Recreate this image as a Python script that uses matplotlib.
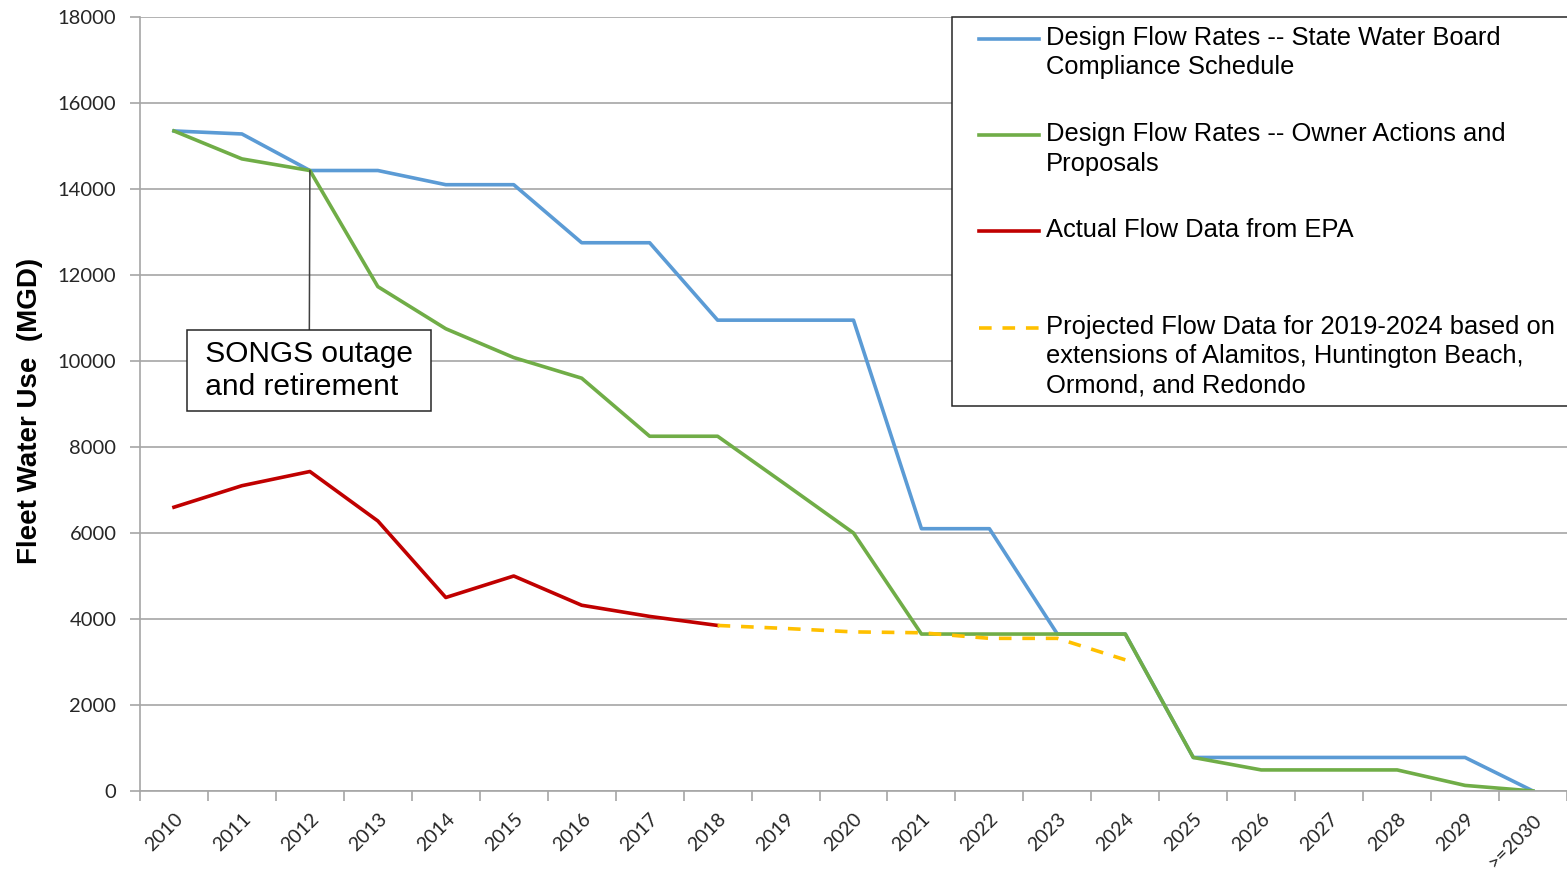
import matplotlib
matplotlib.use("Agg")
import matplotlib.pyplot as plt
import numpy as np
from matplotlib.legend_handler import HandlerLine2D

categories = ['2010', '2011', '2012', '2013', '2014', '2015', '2016', '2017', '2018', '2019',
              '2020', '2021', '2022', '2023', '2024', '2025', '2026', '2027', '2028', '2029', '>=2030']

state_board = [15350, 15280, 14430, 14430, 14100, 14100, 12750, 12750, 10950, 10950,
               10950, 6100, 6100, 3650, 3650, 780, 780, 780, 780, 780, 0]
owner_actions = [15350, 14700, 14430, 11730, 10750, 10080, 9600, 8250, 8250, 7130,
                 6000, 3650, 3650, 3650, 3650, 780, 490, 490, 490, 130, 0]
actual_years = categories[:9]
actual_epa = [6600, 7100, 7430, 6280, 4500, 5000, 4320, 4060, 3850]
projected_years = categories[8:15]
projected = [3850, 3780, 3700, 3680, 3550, 3550, 3050]

labels = ["Design Flow Rates -- State Water Board\nCompliance Schedule",
          "Design Flow Rates -- Owner Actions and\nProposals",
          "Actual Flow Data from EPA\n ",
          "Projected Flow Data for 2019-2024 based on \nextensions of Alamitos, Huntington Beach,\nOrmond, and Redondo"]
n_lines = [2, 2, 2, 3]

GRID = '#a6a6a6'
FONT = ['Liberation Sans', 'DejaVu Sans']
TICKFONT = ['Lato', 'DejaVu Sans']
LEG_SIZE = 18.4
LINE_STEP = 1.133  # line step of legend text, in font sizes


# handle placed at the first text line, with empty room on its left (like Excel)
class FirstLineHandler(HandlerLine2D):
    def __init__(self, nlines, **kw):
        super().__init__(**kw)
        self.nlines = nlines

    def create_artists(self, legend, orig_handle, xdescent, ydescent, width, height, fontsize, trans):
        arts = super().create_artists(legend, orig_handle, xdescent, ydescent,
                                      width, height, fontsize, trans)
        shift = (self.nlines - 1) / 2 * LINE_STEP * fontsize
        seg = 2.35 * fontsize
        for a in arts:
            y = np.asarray(a.get_ydata(), dtype=float)
            a.set_ydata(y + shift)
            x = np.asarray(a.get_xdata(), dtype=float)
            a.set_xdata(np.linspace(width - seg - xdescent, width - xdescent, len(x)))
        return arts


idx = {c: i for i, c in enumerate(categories)}

fig = plt.figure(figsize=(15.67, 8.73), dpi=100)
ax = fig.add_axes([140 / 1567, 1 - 791 / 873, (1567 - 140) / 1567, (791 - 17) / 873])

l1, = ax.plot(range(len(categories)), state_board, color='#5B9BD5', lw=2.6)
l2, = ax.plot(range(len(categories)), owner_actions, color='#70AD47', lw=2.6)
l3, = ax.plot([idx[c] for c in actual_years], actual_epa, color='#C00000', lw=2.6)
l4, = ax.plot([idx[c] for c in projected_years], projected, color='#FFC000', lw=2.6,
              linestyle=(0, (3.5, 3)))

ax.set_xlim(-0.5, len(categories) - 0.5)
ax.set_ylim(0, 18000)
ax.set_yticks(range(0, 18001, 2000))
ax.set_xticks(np.arange(-0.5, len(categories), 1.0))
ax.set_xticklabels([])
ax.set_xticks(range(len(categories)), minor=True)
ax.set_xticklabels(categories, minor=True, rotation=45, ha='right', rotation_mode='anchor',
                   fontsize=14, family=TICKFONT, color='#262626')
ax.tick_params(axis='x', which='major', length=7, color=GRID, width=1.2)
ax.tick_params(axis='x', which='minor', length=0, pad=14)
ax.tick_params(axis='y', length=7, color=GRID, width=1.2, pad=10, labelsize=14.5,
               labelcolor='#262626')
for t in ax.get_yticklabels():
    t.set_family(TICKFONT)

ax.yaxis.grid(True, color=GRID, lw=1.2)
ax.set_axisbelow(True)
for s in ['top', 'right']:
    ax.spines[s].set_visible(False)
for s in ['left', 'bottom']:
    ax.spines[s].set_color(GRID)
    ax.spines[s].set_linewidth(1.2)

ax.set_ylabel("Fleet Water Use  (MGD)", fontsize=20, fontweight='bold', family=FONT)
ax.yaxis.set_label_coords(-0.068, 0.4916)

ax.annotate(" SONGS outage \n and retirement ", xy=(2, 14430), xytext=(1.99, 9780),
            ha='center', va='center', multialignment='left', fontsize=21.5, family=FONT,
            bbox=dict(boxstyle='square,pad=0.33', fc='white', ec='#262626', lw=1.1),
            arrowprops=dict(arrowstyle='-', color='#404040', lw=1.1, shrinkA=0, shrinkB=0))

handles = [l1, l2, l3, l4]
leg = ax.legend(handles, labels, loc='upper left',
                bbox_to_anchor=(952 / 1567, 1 - 17 / 873), bbox_transform=fig.transFigure,
                borderaxespad=0, borderpad=0.35, handlelength=3.07, handletextpad=0.25,
                labelspacing=1.68, fancybox=False, framealpha=1, edgecolor='#262626',
                prop={'family': FONT, 'size': LEG_SIZE},
                handler_map={h: FirstLineHandler(n) for h, n in zip(handles, n_lines)})
leg.get_frame().set_linewidth(1.1)
for t in leg.get_texts():
    t.set_linespacing(1.28)

fig.savefig("out.png", dpi=100)
